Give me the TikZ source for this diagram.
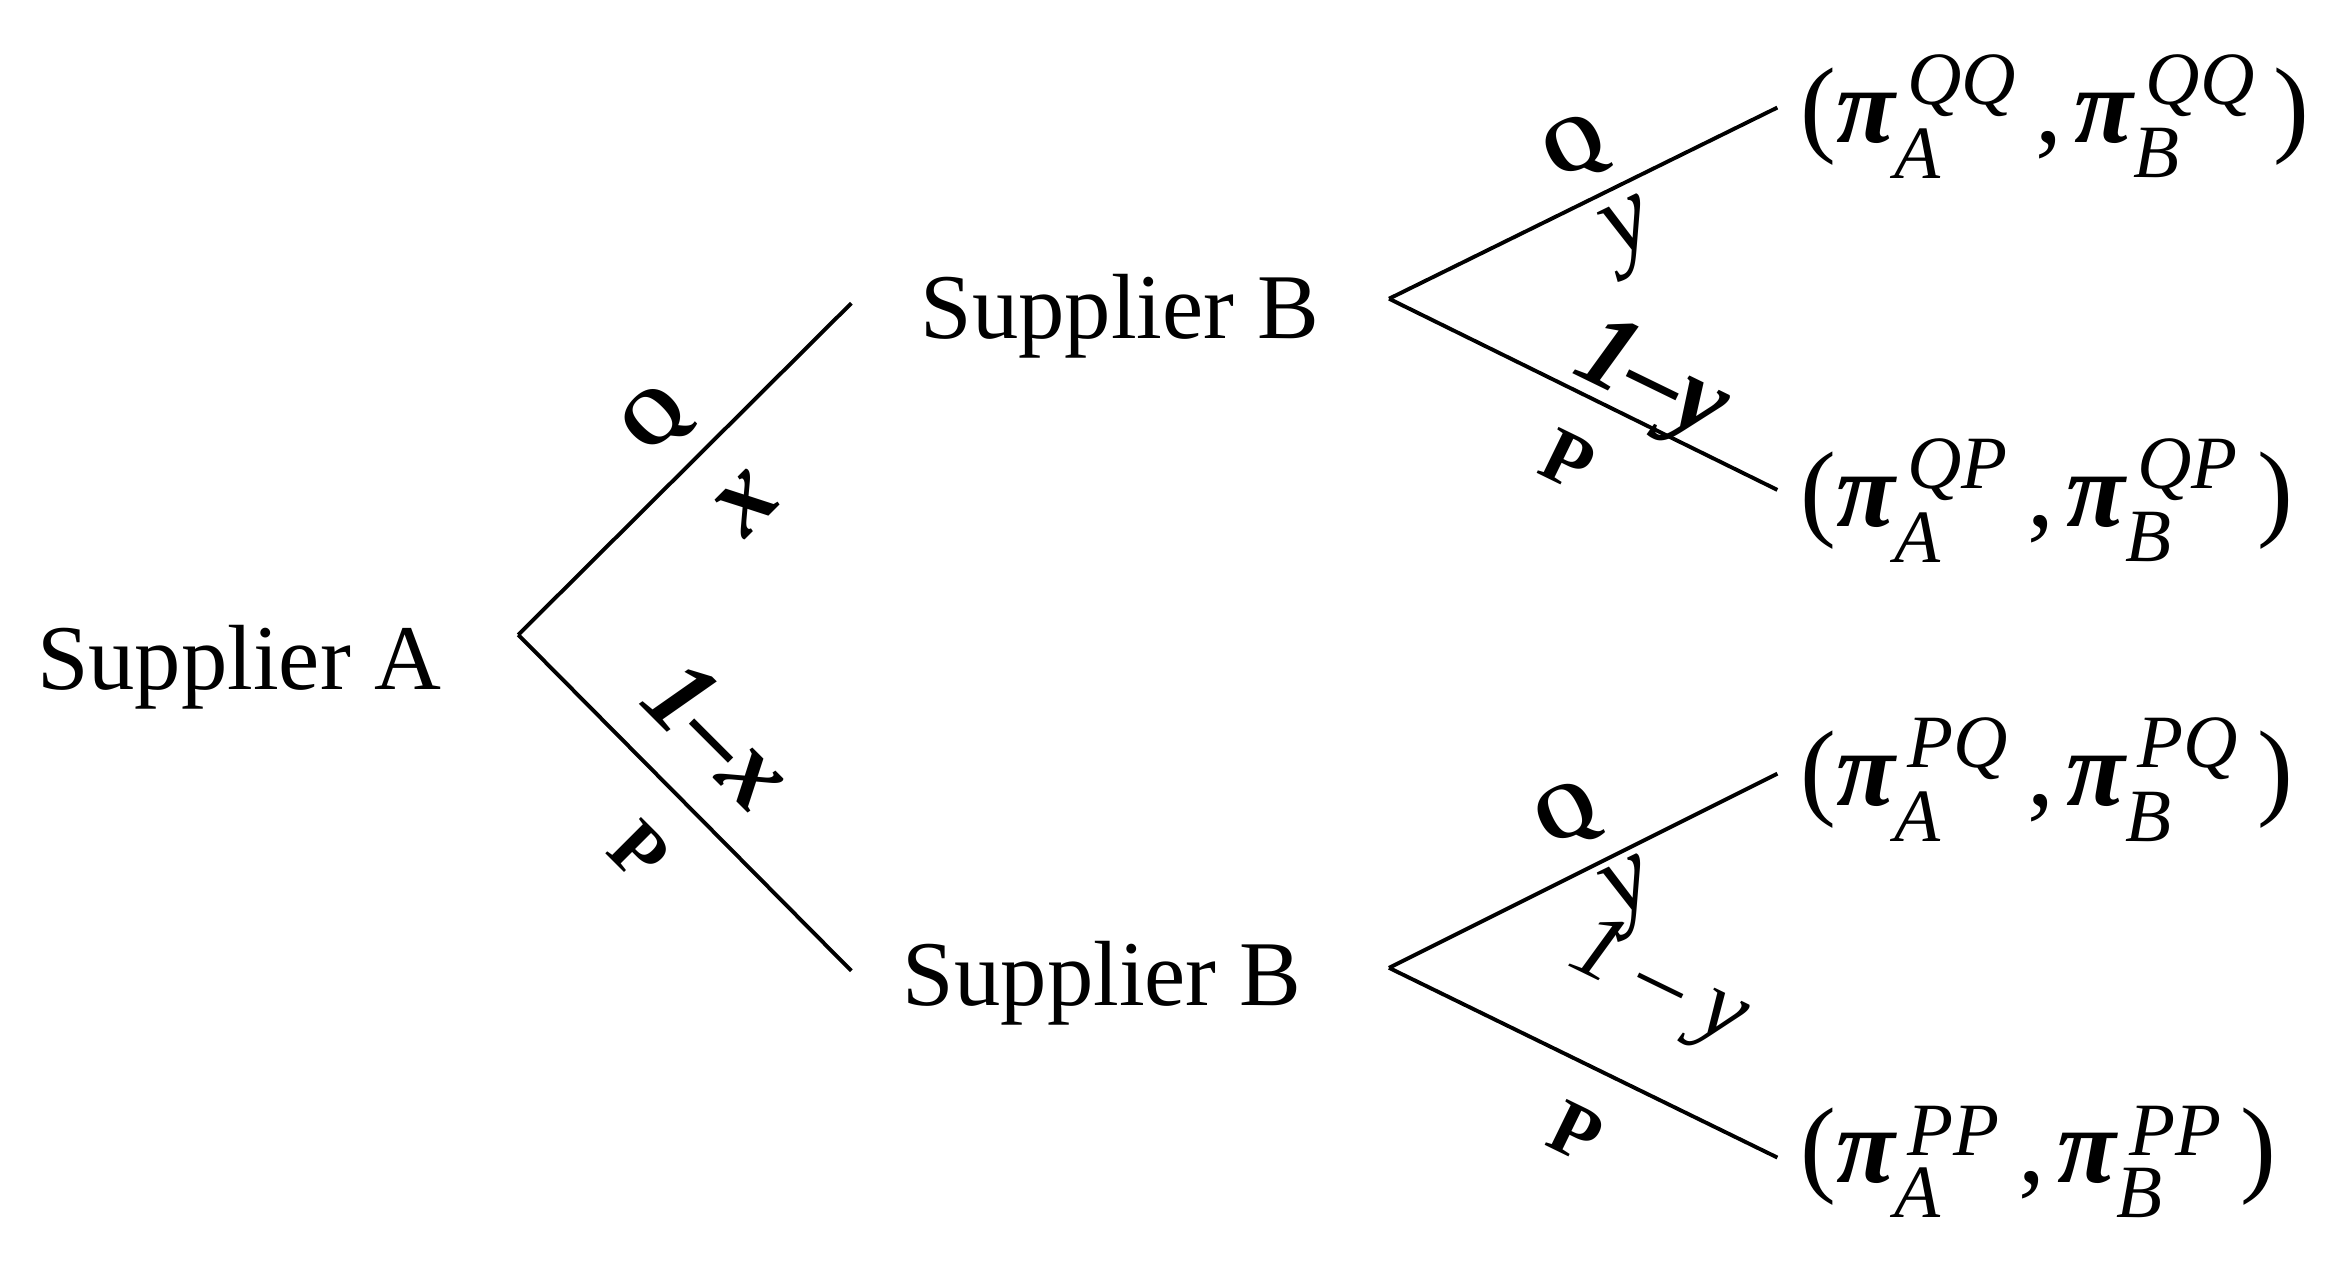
\documentclass[tikz,border=0pt]{standalone}
\usepackage{amsmath}
\usepackage{fontspec}
\setmainfont{Liberation Serif}
\newcommand{\ti}[1]{\text{\itshape #1}}
\newcommand{\pp}[2]{\ensuremath{\text{(}\text{\bfseries\itshape π}^{\,\ti{#1}}_{\ti{A}}\text{\,,}\,\text{\bfseries\itshape π}^{\,\ti{#2}}_{\ti{B}}\text{\,)}}}
\begin{document}
\begin{tikzpicture}[x=0.5pt,y=-0.5pt,
  br/.style={line width=1.3pt},
  lab/.style={font=\fontsize{26}{30}\selectfont\bfseries, inner sep=0pt},
  mlab/.style={font=\fontsize{36}{40}\selectfont\itshape, inner sep=0pt},
  sup/.style={font=\fontsize{31}{36}\selectfont, inner sep=0pt},
  pay/.style={font=\fontsize{36}{40}\selectfont, anchor=west, inner sep=0pt}]
\useasboundingbox (0,0) rectangle (1560,847);
\node[sup] (A) at (160,447) {Supplier A};
\coordinate (a) at (347,425);
\coordinate (b1e) at (570,203);
\coordinate (b2e) at (570,650);
\node[sup] (B1) at (750,212) {Supplier B};
\node[sup] (B2) at (738,658) {Supplier B};
\coordinate (b1) at (930,200);
\coordinate (b2) at (930,648);
\coordinate (t1) at (1190,72);
\coordinate (t2) at (1190,328);
\coordinate (t3) at (1190,518);
\coordinate (t4) at (1190,775);
\draw[br] (a) -- (b1e);
\draw[br] (a) -- (b2e);
\draw[br] (b1) -- (t1);
\draw[br] (b1) -- (t2);
\draw[br] (b2) -- (t3);
\draw[br] (b2) -- (t4);
\node[lab, rotate=45] (q1) at (440,282) {Q};
\node[mlab, rotate=45] (x1) at (500,337) {\bfseries x};
\node[mlab, rotate=-45] (x2) at (482,492) {\bfseries 1–x};
\node[lab, rotate=-45] (p1) at (428,570) {P};
\node[lab, rotate=26] (q2) at (1055,100) {Q};
\node[mlab, rotate=26] (y1) at (1093,158) {y};
\node[mlab, rotate=-26] (y2) at (1105,258) {\bfseries 1–y};
\node[lab, rotate=-26] (p2) at (1050,308) {P};
\node[lab, rotate=26] (q3) at (1050,547) {Q};
\node[mlab, rotate=26] (y3) at (1093,600) {y};
\node[mlab, rotate=-26, font=\fontsize{32}{36}\selectfont\itshape] (y4) at (1110,660) {1 – y};
\node[lab, rotate=-26] (p3) at (1055,758) {P};
\node[pay] (P1) at (1205,78) {\pp{QQ}{QQ}};
\node[pay] (P2) at (1205,335) {\pp{QP}{QP}};
\node[pay] (P3) at (1205,522) {\pp{PQ}{PQ}};
\node[pay] (P4) at (1205,778) {\pp{PP}{PP}};
\end{tikzpicture}
\end{document}
